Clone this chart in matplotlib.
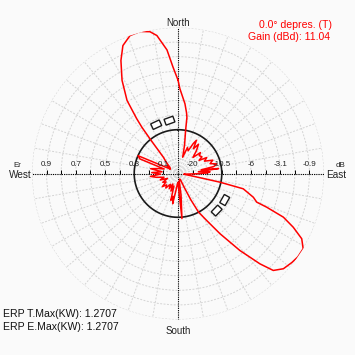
import numpy as np
import matplotlib
matplotlib.use("Agg")
import matplotlib.pyplot as plt
from matplotlib.patches import Rectangle
import matplotlib.transforms as mtransforms

plt.rcParams['font.family'] = ['Liberation Sans', 'DejaVu Sans']

# ---- data: azimuth (deg, clockwise from North) and relative field ----
az_deg = [0, 1.3, 5.7, 8, 9, 10, 13, 16, 20, 24, 27, 29, 32, 35, 39, 43, 47, 50,
          55, 58, 61, 65, 69, 73, 76, 79, 81, 83, 85, 87, 89, 91, 94, 97, 100,
          101.7, 103.2, 107.5, 110, 110.8, 112.5, 115, 117.8, 121, 124.8, 128,
          132.1, 135.5, 137.8, 141.2, 145.1, 148.6, 152, 154, 156, 158, 162,
          166, 170, 172, 175, 177, 180, 183, 187, 190, 192, 195, 198, 202, 206,
          210, 215, 220, 225, 230, 235, 240, 245, 250, 255, 260, 264, 268, 272,
          276, 280, 284, 288, 291, 294, 297, 300, 304, 307, 311, 315, 318, 320,
          321, 322, 323, 325.1, 329, 333.2, 336.7, 340.8, 345, 348.8, 351.3,
          354.9, 357.3, 360]
field = [0.64, 0.58, 0.48, 0.42, 0.39, 0.30, 0.20, 0.116, 0.19, 0.17, 0.23,
         0.26, 0.20, 0.245, 0.20, 0.15, 0.21, 0.19, 0.20, 0.17, 0.225, 0.20,
         0.255, 0.23, 0.273, 0.25, 0.16, 0.28, 0.14, 0.22, 0.20, 0.12, 0.06,
         0.04, 0.10, 0.294, 0.459, 0.541, 0.574, 0.65, 0.781, 0.871, 0.958,
         1.00, 1.00, 0.99, 0.973, 0.931, 0.835, 0.677, 0.503, 0.377, 0.30,
         0.20, 0.10, 0.05, 0.04, 0.05, 0.05, 0.15, 0.31, 0.12, 0.06, 0.07,
         0.12, 0.21, 0.16, 0.19, 0.09, 0.13, 0.08, 0.12, 0.09, 0.13, 0.11,
         0.14, 0.10, 0.12, 0.08, 0.13, 0.10, 0.15, 0.19, 0.12, 0.18, 0.11,
         0.19, 0.14, 0.10, 0.28, 0.30, 0.10, 0.06, 0.09, 0.068, 0.09, 0.12,
         0.15, 0.224, 0.30, 0.40, 0.47, 0.61, 0.744, 0.867, 0.954, 1.00, 1.007,
         0.99, 0.956, 0.85, 0.73, 0.64]

west_labels = ['0.9', '0.7', '0.5', '0.3', '0.1']
east_labels = ['-0.9', '-3.1', '-6', '-10.5', '-20']
label_r = [0.9, 0.7, 0.5, 0.3, 0.1]

# panel icons: (azimuth deg, radius, rotation deg)
icons = [(-24, 0.345, 25), (-8.5, 0.346, 20), (119.6, 0.347, -119.6), (133.8, 0.346, -133.8)]

W, H = 355, 355
fig = plt.figure(figsize=(W / 100, H / 100), dpi=100)
fig.patch.set_facecolor('#fafafa')

cx, cy, R = 178, 173.5, 146
pos = [(cx - R) / W, 1 - (cy + R) / H, 2 * R / W, 2 * R / H]
ax = fig.add_axes(pos, projection='polar')
ax.set_facecolor('none')
ax.set_theta_zero_location('N')
ax.set_theta_direction(-1)
ax.set_ylim(0, 1)
ax.set_thetagrids(np.arange(0, 360, 10), labels=[])
ax.set_rgrids(np.arange(0.1, 1.01, 0.1), labels=[])
ax.grid(True, color='#d4d4d4', linestyle=(0, (2, 1.5)), linewidth=0.7)
ax.spines['polar'].set_visible(False)
ax.tick_params(length=0)

# axis lines
for t in (0, 180):
    ax.plot([np.deg2rad(t)] * 2, [0, 1], color='black', lw=0.8, ls=(0, (1, 1)), zorder=3)
for t in (90, 270):
    ax.plot([np.deg2rad(t)] * 2, [0, 1], color='black', lw=0.8, ls=(0, (1, 1)), zorder=3)
ticks_r = np.arange(0.1, 1.0, 0.1)
for t in (90, 270):
    ax.plot([np.deg2rad(t)] * len(ticks_r), ticks_r, ls='none', marker=2,
            markersize=3, color='black', mew=0.7, zorder=3)

# black reference circle
th = np.linspace(0, 2 * np.pi, 361)
ax.plot(th, np.full_like(th, 0.3), color='#1a1a1a', lw=1.2, zorder=4)

# pattern
ax.plot(np.deg2rad(az_deg), field, color='#ff0000', lw=1.1, zorder=5)

# axis value labels
for lbl, r in zip(west_labels, label_r):
    ax.annotate(lbl, xy=(np.deg2rad(270), r), xytext=(0, 4.2), textcoords='offset points',
                ha='center', va='bottom', fontsize=5.8, color='#222222', zorder=6)
for lbl, r in zip(east_labels, label_r):
    ax.annotate(lbl, xy=(np.deg2rad(90), r), xytext=(0, 4.2), textcoords='offset points',
                ha='center', va='bottom', fontsize=5.8, color='#222222', zorder=6)

# panel icons on a cartesian overlay
ax2 = fig.add_axes(pos)
ax2.set_xlim(-1, 1)
ax2.set_ylim(-1, 1)
ax2.axis('off')
ax2.patch.set_alpha(0)
for a, r, rot in icons:
    x = r * np.sin(np.deg2rad(a))
    y = r * np.cos(np.deg2rad(a))
    w, h = 0.064, 0.042
    rect = Rectangle((-w / 2, 0), w, h, facecolor='white', edgecolor='#1a1a1a', lw=1.0)
    tr = mtransforms.Affine2D().rotate_deg(rot).translate(x, y) + ax2.transData
    rect.set_transform(tr)
    ax2.add_patch(rect)

def ftxt(x, y, s, **kw):
    fig.text(x / W, 1 - y / H, s, **kw)

ftxt(178, 22.5, 'North', ha='center', va='center', fontsize=7, color='#222222')
ftxt(178, 331.5, 'South', ha='center', va='center', fontsize=7, color='#222222')
ftxt(20, 174.5, 'West', ha='center', va='center', fontsize=7.2, color='#222222')
ftxt(336, 174.5, 'East', ha='center', va='center', fontsize=7.2, color='#222222')
ftxt(17, 165, 'Er', ha='center', va='center', fontsize=5.8, color='#222222')
ftxt(340, 165, 'dB', ha='center', va='center', fontsize=5.8, color='#222222')
ftxt(332, 25, '0.0° depres. (T)', ha='right', va='center', fontsize=7.6, color='#ff0000')
ftxt(330, 37, 'Gain (dBd): 11.04', ha='right', va='center', fontsize=7.6, color='#ff0000')
ftxt(3.3, 314, 'ERP T.Max(KW): 1.2707', ha='left', va='center', fontsize=7.6, color='#111111')
ftxt(3.3, 326.5, 'ERP E.Max(KW): 1.2707', ha='left', va='center', fontsize=7.6, color='#111111')

fig.savefig('out.png', dpi=100, facecolor=fig.get_facecolor())
